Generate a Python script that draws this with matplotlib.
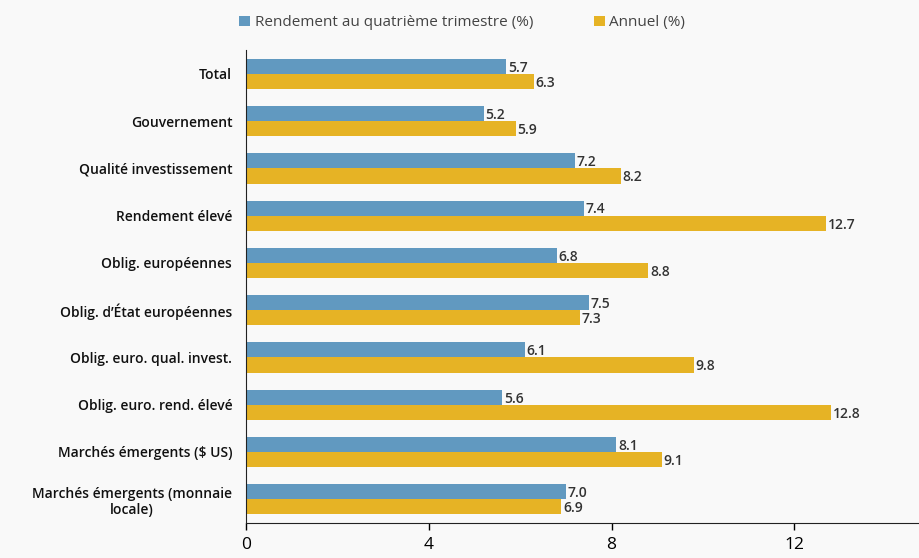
import matplotlib.pyplot as plt
import numpy as np

plt.rcParams['font.family'] = ['Open Sans', 'DejaVu Sans']

# Données
categories = [
    'Total',
    'Gouvernement',
    'Qualité investissement',
    'Rendement élevé',
    'Oblig. européennes',
    'Oblig. d’État européennes',
    'Oblig. euro. qual. invest.',
    'Oblig. euro. rend. élevé',
    'Marchés émergents ($ US)',
    'Marchés émergents (monnaie\nlocale)',
]
trimestre = [5.7, 5.2, 7.2, 7.4, 6.8, 7.5, 6.1, 5.6, 8.1, 7.0]
annuel = [6.3, 5.9, 8.2, 12.7, 8.8, 7.3, 9.8, 12.8, 9.1, 6.9]
xticks = [0, 4, 8, 12]

bleu = '#6199c0'
or_ = '#e6b325'
fond = '#f9f9f9'

fig = plt.figure(figsize=(9.19, 5.58), dpi=100, facecolor=fond)
ax = fig.add_axes([0.2677, 0.063, 0.7323, 0.847], facecolor=fond)

y = np.arange(len(categories))
h = 0.32
b1 = ax.barh(y - h / 2, trimestre, height=h, color=bleu, label='Rendement au quatrième trimestre (%)')
b2 = ax.barh(y + h / 2, annuel, height=h, color=or_, label='Annuel (%)')

# Valeurs à droite des barres
for bars, vals in [(b1, trimestre), (b2, annuel)]:
    for bar, v in zip(bars, vals):
        ax.text(bar.get_width() + 0.04, bar.get_y() + bar.get_height() / 2 + 0.03,
                f'{v:.1f}', va='center', ha='left', fontsize=10,
                fontweight='semibold', color='#333333')

ax.set_ylim(len(categories) - 0.5, -0.5)
ax.set_xlim(0, 14.73)
ax.set_yticks(y)
ax.set_yticklabels(categories, fontsize=10, fontweight='semibold', color='#111111',
                   multialignment='center')
ax.tick_params(axis='y', length=0, pad=10)
ax.set_xticks(xticks)
ax.set_xticklabels([str(t) for t in xticks], fontsize=12.5)
ax.tick_params(axis='x', length=5, width=1, pad=5)

for s in ['top', 'right']:
    ax.spines[s].set_visible(False)
ax.spines['left'].set_color('#222222')
ax.spines['bottom'].set_color('#222222')

fig.legend(loc='upper center', bbox_to_anchor=(0.503, 0.997), ncol=2, frameon=False,
           fontsize=11, handlelength=0.7, handleheight=0.7, handletextpad=0.3,
           columnspacing=4.0, labelcolor='#444444')

plt.savefig('out.png', dpi=100, facecolor=fond)
